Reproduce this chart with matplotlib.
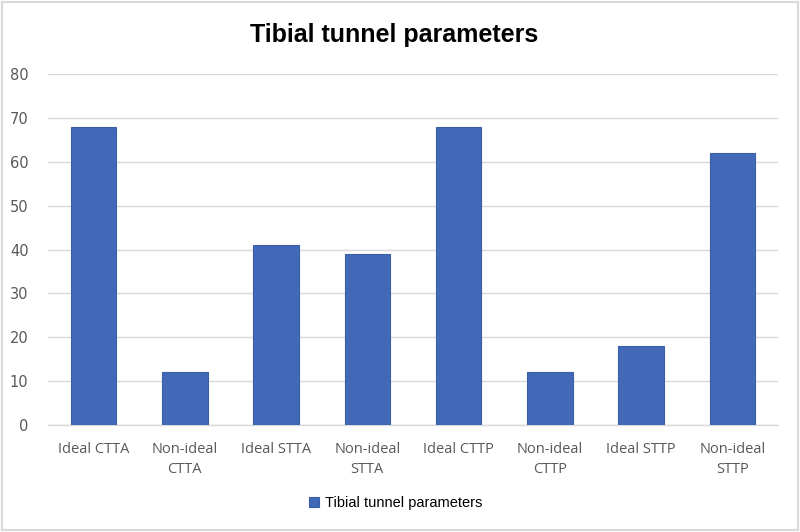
import matplotlib
matplotlib.use("Agg")
import matplotlib.pyplot as plt
from matplotlib.patches import Rectangle

categories = ["Ideal CTTA", "Non-ideal\nCTTA", "Ideal STTA", "Non-ideal\nSTTA",
              "Ideal CTTP", "Non-ideal\nCTTP", "Ideal STTP", "Non-ideal\nSTTP"]
values = [68, 12, 41, 39, 68, 12, 18, 62]
yticks = [0, 10, 20, 30, 40, 50, 60, 70, 80]
series_name = "Tibial tunnel parameters"

BAR_COLOR = "#4169b8"
TEXT_COLOR = "#595959"

fig = plt.figure(figsize=(8, 5.32), dpi=100)
ax = fig.add_axes([0.06, 0.201, 0.9125, 0.66])

x = range(len(categories))
ax.bar(x, values, width=0.5, color=BAR_COLOR, edgecolor="#3a5fa8", linewidth=0.8,
       label=series_name, zorder=3)

ax.set_xlim(-0.5, len(categories) - 0.5)
ax.set_ylim(0, 80)
ax.set_yticks(yticks)
ax.set_yticklabels([str(t) for t in yticks], fontsize=10.5, color=TEXT_COLOR,
                   family=["Liberation Sans Narrow", "DejaVu Sans"])
ax.set_xticks(list(x))
ax.set_xticklabels(categories, fontsize=10.5, color=TEXT_COLOR, family="Open Sans",
                   linespacing=1.5)
ax.tick_params(axis="both", length=0)
ax.tick_params(axis="x", pad=12)
ax.tick_params(axis="y", pad=14)

ax.grid(axis="y", color="#d9d9d9", linewidth=1, zorder=0)
for s in ["top", "right", "left"]:
    ax.spines[s].set_visible(False)
ax.spines["bottom"].set_color("#d9d9d9")
ax.spines["bottom"].set_linewidth(1)

fig.text(0.493, 0.935, series_name, ha="center", va="center", fontsize=18,
         fontweight="bold", family="Liberation Sans", color="black")

fig.legend(loc="center", bbox_to_anchor=(0.495, 0.054), frameon=False,
           prop={"family": "Liberation Sans", "size": 10.5}, handlelength=0.7,
           handleheight=0.7, handletextpad=0.4)

fig.patches.append(Rectangle((0.002, 0.003), 0.995, 0.994, transform=fig.transFigure,
                             fill=False, edgecolor="#d9d9d9", linewidth=1.5))

fig.savefig("out.png", dpi=100, facecolor="white")
